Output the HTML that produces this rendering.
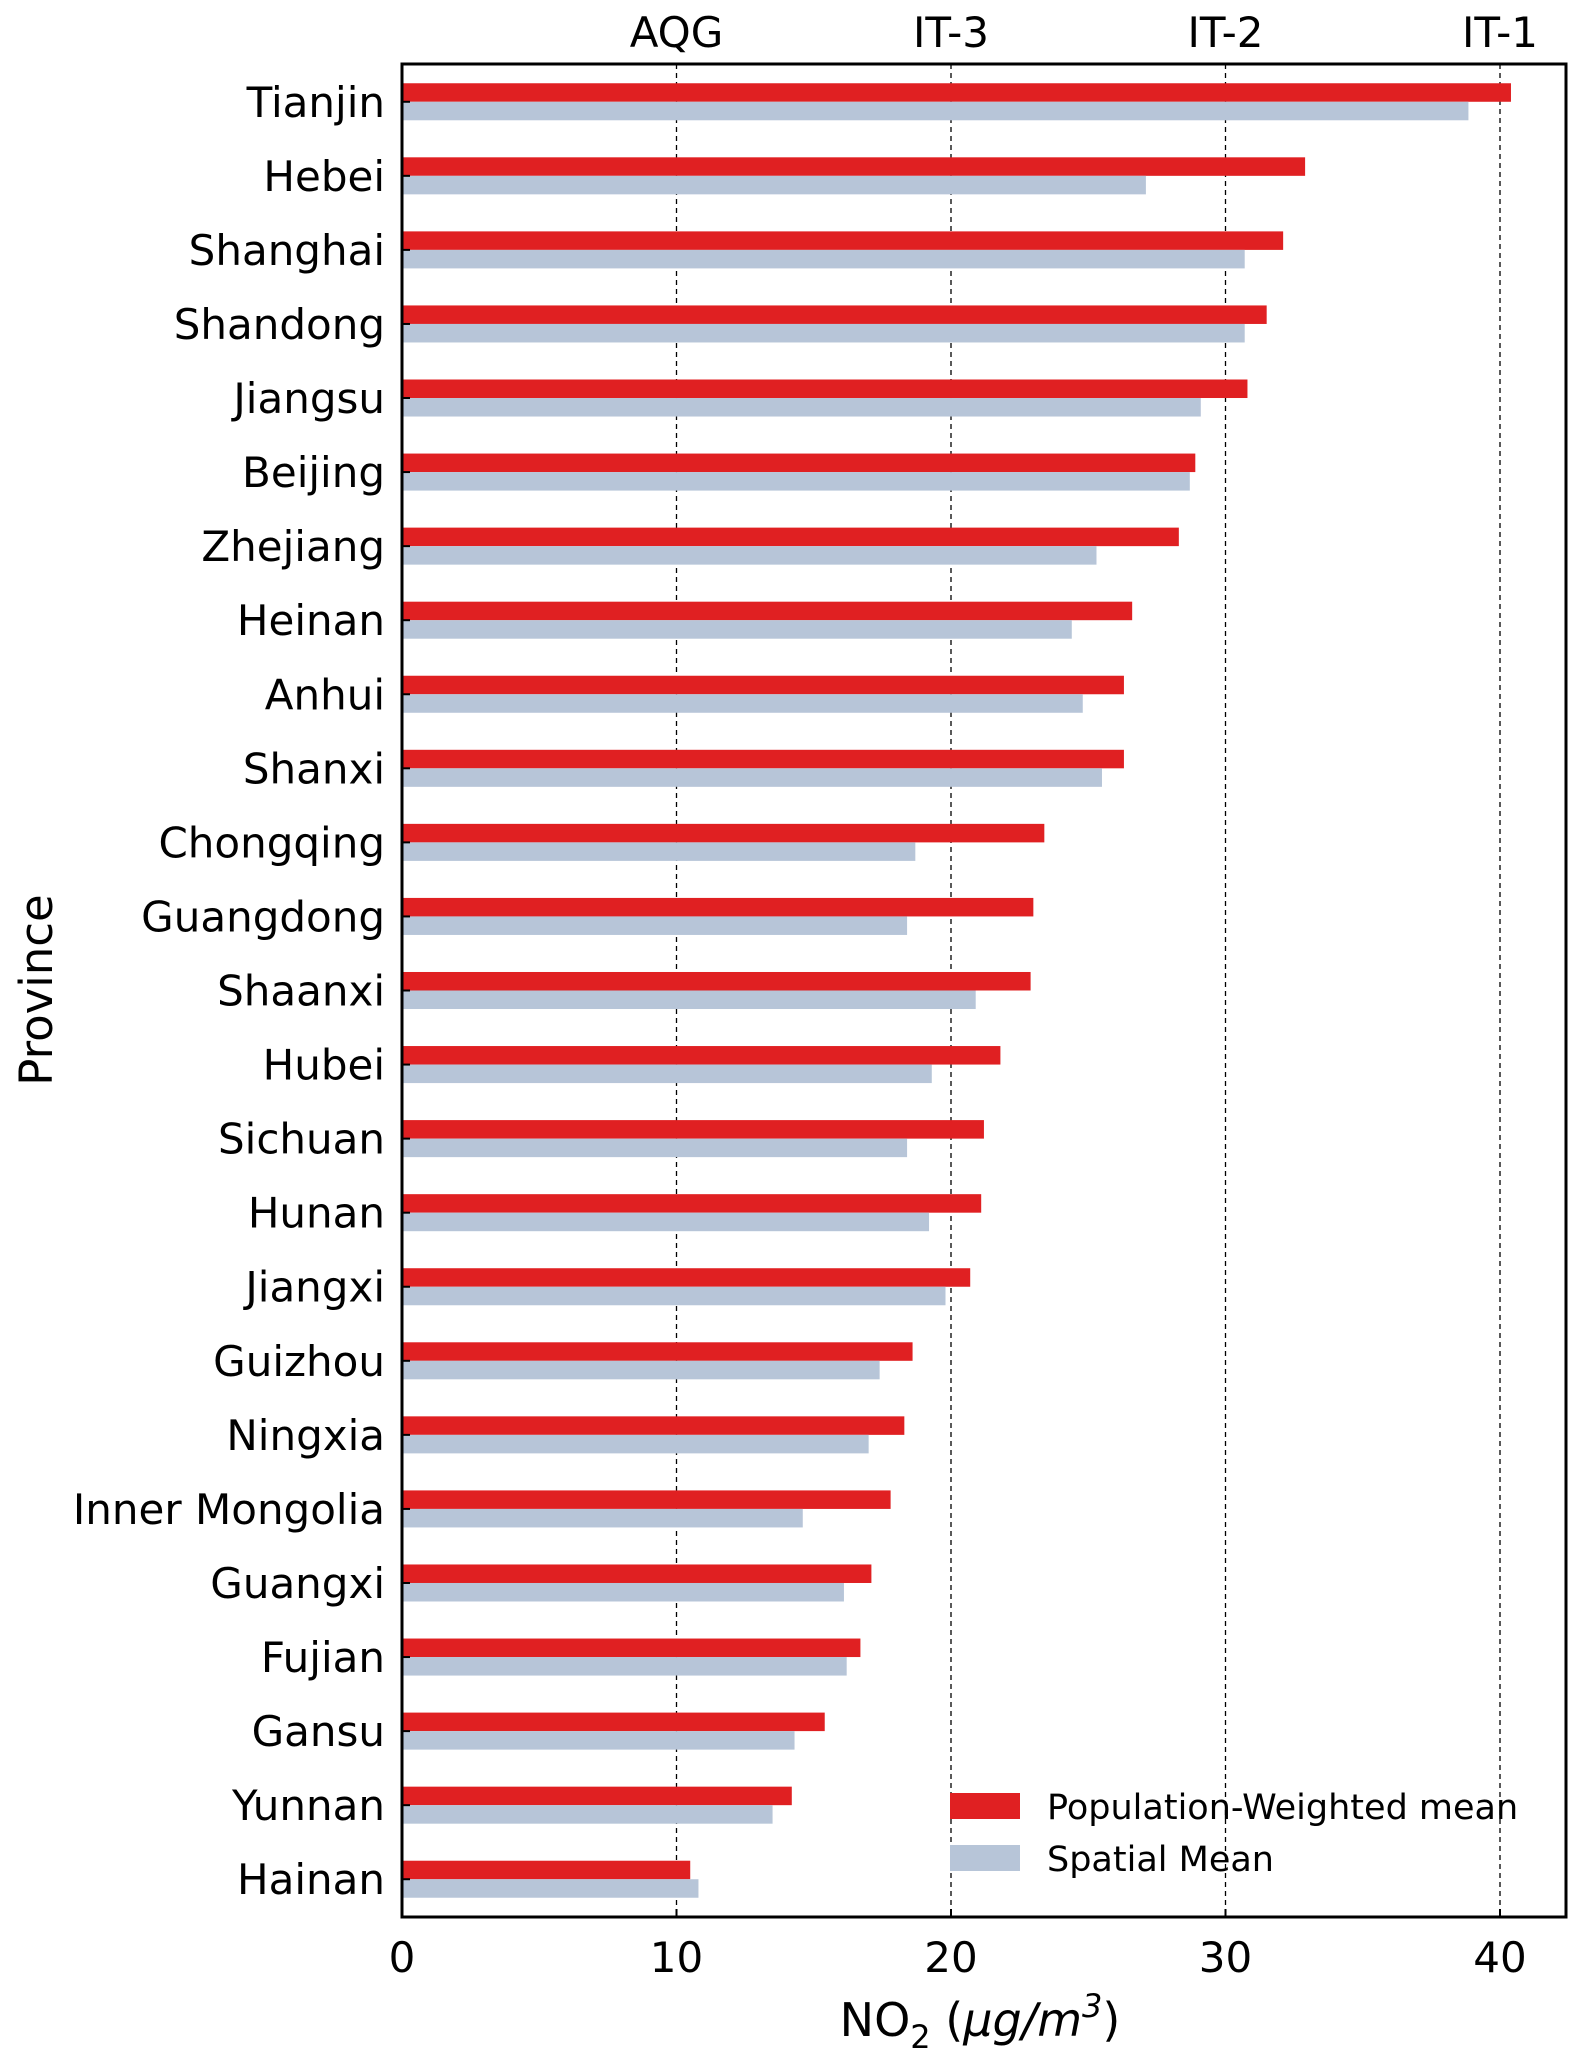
<!DOCTYPE html>
<html><head><meta charset="utf-8"><style>
html,body{margin:0;padding:0;background:#fff;}
svg text{font-family:"DejaVu Sans","Liberation Sans",sans-serif;fill:#000;}
</style></head><body>
<svg id="chart" width="1583" height="2056" xmlns="http://www.w3.org/2000/svg"></svg>
<script>
const provinces=["Tianjin","Hebei","Shanghai","Shandong","Jiangsu","Beijing","Zhejiang","Heinan","Anhui","Shanxi","Chongqing","Guangdong","Shaanxi","Hubei","Sichuan","Hunan","Jiangxi","Guizhou","Ningxia","Inner Mongolia","Guangxi","Fujian","Gansu","Yunnan","Hainan"];
const popWeighted=[40.4,32.9,32.1,31.5,30.8,28.9,28.3,26.6,26.3,26.3,23.4,23.0,22.9,21.8,21.2,21.1,20.7,18.6,18.3,17.8,17.1,16.7,15.4,14.2,10.5];
const spatialMean=[38.85,27.1,30.7,30.7,29.1,28.7,25.3,24.4,24.8,25.5,18.7,18.4,20.9,19.3,18.4,19.2,19.8,17.4,17.0,14.6,16.1,16.2,14.3,13.5,10.8];
const xTicks=[0,10,20,30,40];
const guideValues=[10,20,30,40];
const guideLabels=["AQG","IT-3","IT-2","IT-1"];

const svg=document.getElementById('chart');
const NS="http://www.w3.org/2000/svg";
const L=402,R=1566,T=64,B=1917;
const xMin=0,xMax=(R-L)/27.45;
const yMin=-0.51,yMax=24.51;
function xs(v){return L+(v-xMin)/(xMax-xMin)*(R-L);}
function ys(i){return T+(i-yMin)/(yMax-yMin)*(B-T);}
const unit=(B-T)/(yMax-yMin);
function mk(tag,attrs){const e=document.createElementNS(NS,tag);for(const k in attrs)e.setAttribute(k,attrs[k]);svg.appendChild(e);return e;}

guideValues.forEach((v,i)=>{
  const l=mk('line',{x1:xs(v),x2:xs(v),y1:T,y2:B,stroke:'#000','stroke-width':1.3,'stroke-dasharray':'5,4'});
  
  
  const t=mk('text',{x:xs(v),y:47,'font-size':42,'text-anchor':'middle'});
  t.textContent=guideLabels[i];
  
  
});

provinces.forEach((p,i)=>{
  const c=ys(i);
  const r=mk('rect',{x:xs(0),y:c-unit*0.25,width:xs(popWeighted[i])-xs(0),height:unit*0.25,fill:'#e02022'});
  
  
  const b=mk('rect',{x:xs(0),y:c,width:xs(spatialMean[i])-xs(0),height:unit*0.25,fill:'#b7c5d8'});
  
  
  const tk=mk('line',{x1:L,x2:L+8,y1:c,y2:c,stroke:'#000','stroke-width':2});
  
  
  const t=mk('text',{x:385,y:c+15,'font-size':42,'text-anchor':'end'});
  t.textContent=p;
  
  
});

xTicks.forEach(v=>{
  const tk=mk('line',{x1:xs(v),x2:xs(v),y1:B,y2:B-8,stroke:'#000','stroke-width':2});
  
  
  const t=mk('text',{x:xs(v),y:1972,'font-size':42,'text-anchor':'middle'});
  t.textContent=v;
  
  
});

const fr=mk('rect',{x:L,y:T,width:R-L,height:B-T,fill:'none',stroke:'#000','stroke-width':3});



const lg1=mk('rect',{x:950,y:1793,width:70,height:26,fill:'#e02022'});


const lt1=mk('text',{x:1047,y:1819,'font-size':35});
lt1.textContent='Population-Weighted mean';


const lg2=mk('rect',{x:950,y:1845,width:70,height:26,fill:'#b7c5d8'});


const lt2=mk('text',{x:1047,y:1871,'font-size':35});
lt2.textContent='Spatial Mean';



const xt=mk('text',{x:980,y:2036,'font-size':46,'text-anchor':'middle'});
xt.innerHTML='NO<tspan font-size="32" dy="12">2</tspan><tspan dy="-12"> (</tspan><tspan font-style="italic">μg/m</tspan><tspan font-style="italic" font-size="32" dy="-19">3</tspan><tspan dy="19">)</tspan>';


const yt=mk('text',{x:52,y:990,'font-size':45,'text-anchor':'middle',transform:'rotate(-90 52 990)'});
yt.textContent='Province';


</script>
</body></html>
